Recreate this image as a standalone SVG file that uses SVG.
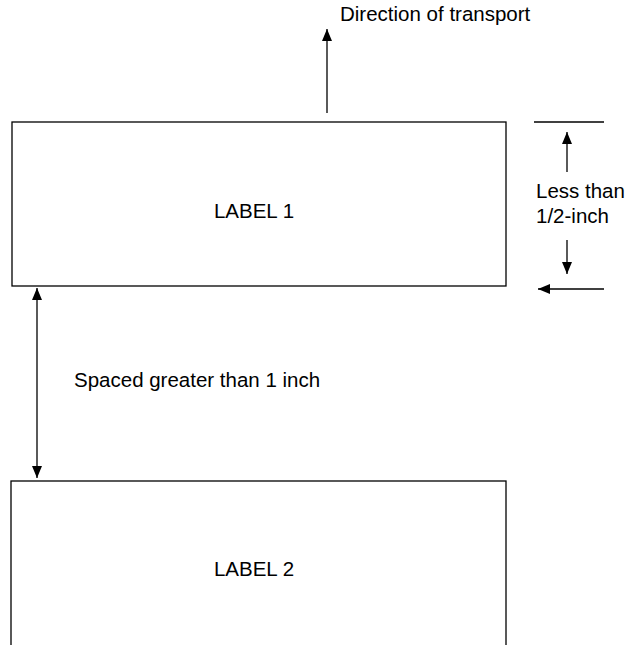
<svg xmlns="http://www.w3.org/2000/svg" width="625" height="645" viewBox="0 0 625 645">
  <defs>
    <marker id="arrow" viewBox="0 0 12 10" refX="12" refY="5" markerWidth="12" markerHeight="10" markerUnits="userSpaceOnUse" orient="auto-start-reverse">
      <path d="M0,0 L12,5 L0,10 z" fill="#000"/>
    </marker>
  </defs>
  <style>
    .box { fill: #fff; stroke: #000; stroke-width: 1.3; }
    .line { stroke: #000; stroke-width: 1.3; fill: none; }
    .txt { font-family: "Liberation Sans", Arial, sans-serif; font-size: 20.5px; fill: #000; }
  </style>
  <rect width="625" height="645" fill="#fff"/>

  <g id="label1">
    <rect class="box" x="12" y="122" width="494" height="164"/>
    <text class="txt" x="254" y="218" text-anchor="middle">LABEL 1</text>
  </g>

  <g id="label2">
    <rect class="box" x="11" y="481" width="495" height="180"/>
    <text class="txt" x="254" y="576" text-anchor="middle">LABEL 2</text>
  </g>

  <g id="annotations">
    <text class="txt" x="340" y="21">Direction of transport</text>
    <text class="txt" x="536" y="198">Less than</text>
    <text class="txt" x="536" y="223">1/2-inch</text>
    <text class="txt" x="74" y="387">Spaced greater than 1 inch</text>
  </g>

  <g id="connectors">
    <line class="line" x1="327" y1="113" x2="327" y2="29" marker-end="url(#arrow)"/>
    <line class="line" x1="534" y1="122" x2="604" y2="122"/>
    <line class="line" x1="567" y1="172" x2="567" y2="132" marker-end="url(#arrow)"/>
    <line class="line" x1="567" y1="240" x2="567" y2="274" marker-end="url(#arrow)"/>
    <line class="line" x1="604" y1="289" x2="538" y2="289" marker-end="url(#arrow)"/>
    <line class="line" x1="37" y1="288" x2="37" y2="478" marker-start="url(#arrow)" marker-end="url(#arrow)"/>
  </g>
</svg>
